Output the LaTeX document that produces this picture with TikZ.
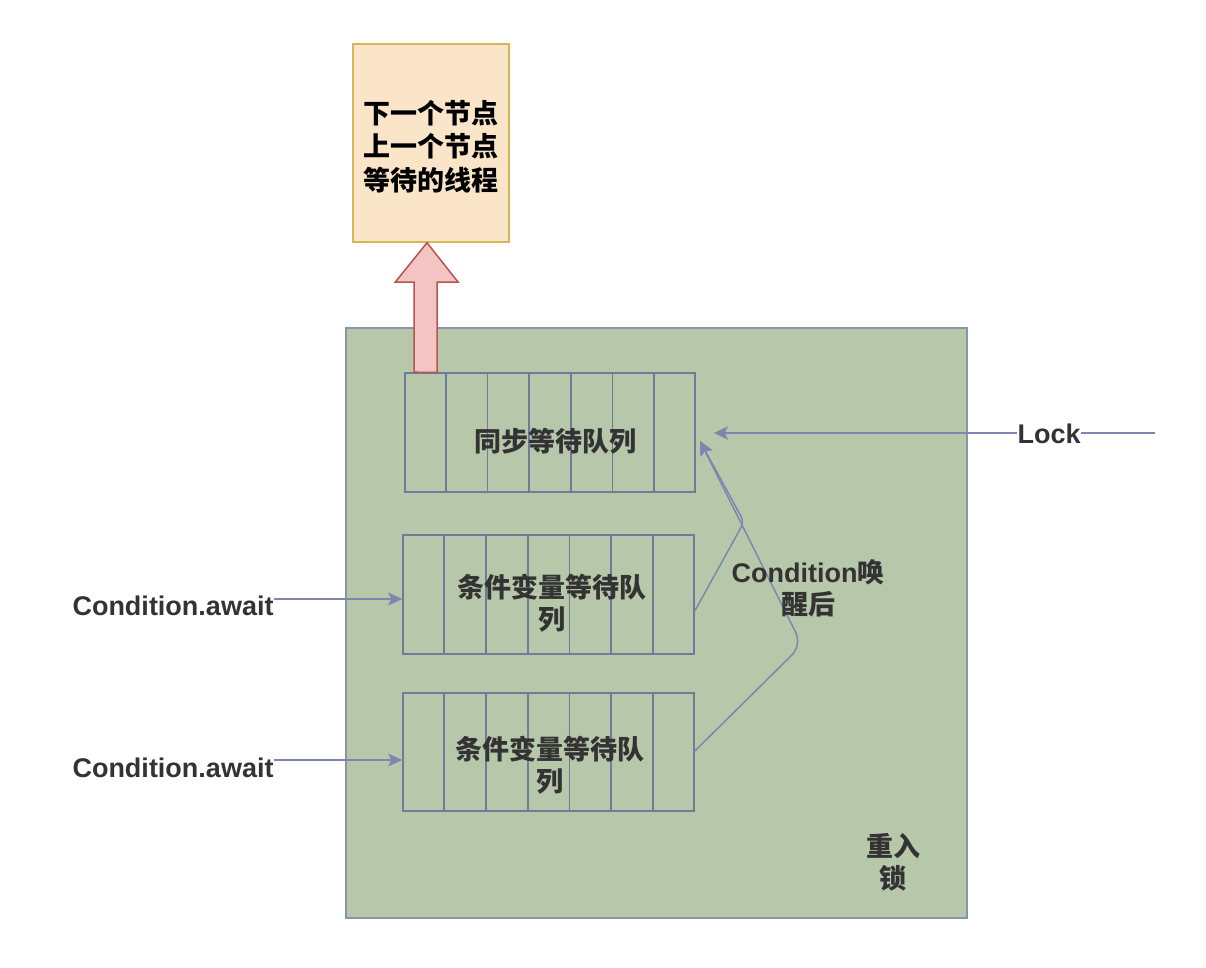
\documentclass[tikz,border=0pt]{standalone}
\usepackage{fontspec}
\setmainfont{Liberation Sans}
\newfontfamily\cjk{Noto Sans CJK SC}
\usetikzlibrary{arrows.meta,calc}
\definecolor{greenfill}{HTML}{B7C8AA}
\definecolor{greenline}{HTML}{8A94A8}
\definecolor{qline}{HTML}{6F7B98}
\definecolor{conncol}{HTML}{7C86AE}
\definecolor{peach}{HTML}{FAE5C8}
\definecolor{gold}{HTML}{D6B656}
\definecolor{pinkfill}{HTML}{F2C4C4}
\definecolor{pinkline}{HTML}{B85450}
\definecolor{txt}{HTML}{333333}
\begin{document}
\begin{tikzpicture}[x=1pt,y=-1pt,
  qbox/.style={draw=qline,line width=1.6pt,inner sep=0pt},
  qdiv/.style={draw=qline,line width=1.8pt},
  lbl/.style={text=txt,font=\fontsize{27}{32}\selectfont\bfseries,align=center,inner sep=0pt},
  conn/.style={draw=conncol,line width=1.5pt,-{Stealth[length=14pt,width=13pt,inset=3pt]}},
  plain/.style={draw=conncol,line width=1.5pt}]
\useasboundingbox (0,0) rectangle (1206,968);
\fill[white] (0,0) rectangle (1206,968);
% container
\node[draw=greenline,fill=greenfill,line width=1.5pt,minimum width=621pt,minimum height=590pt,inner sep=0pt] (lockbox) at (656.5,623) {};
\node[lbl] (lockname) at (893,862) {\cjk 重入\\\cjk 锁};
% top box
\node[draw=gold,fill=peach,line width=1.5pt,minimum width=156pt,minimum height=198pt,inner sep=0pt] (top) at (431,143) {};
\node[lbl,text=black,font=\fontsize{27}{33.5}\selectfont\bfseries] (toptext) at (431,146.5) {\cjk 下一个节点\\\cjk 上一个节点\\\cjk 等待的线程};
% queues
\node[qbox,minimum width=290pt,minimum height=119pt] (q1) at (550,432.5) {};
\node[qbox,minimum width=291pt,minimum height=119pt] (q2) at (548.5,594.5) {};
\node[qbox,minimum width=291pt,minimum height=118pt] (q3) at (548.5,752) {};
\foreach \q in {q1,q2,q3}{
  \foreach \i in {1,...,6}{
    \draw[qdiv] ($(\q.north west)!\i/7!(\q.north east)$) -- ($(\q.south west)!\i/7!(\q.south east)$);
  }
}
\node[lbl] (q1t) at (555,441) {\cjk 同步等待队列};
\node[lbl] (q2t) at (552,603) {\cjk 条件变量等待队\\\cjk 列};
\node[lbl] (q3t) at (550,765) {\cjk 条件变量等待队\\\cjk 列};
% big arrow
\draw[fill=pinkfill,draw=pinkline,line width=1.5pt]
  ($(q1.north west)+(10,0)$) -- ++(0,-90) -- ++(-19,0) -- (top.south -| 427,0) -- (458,282) -- (437,282) -- (437,372.5) -- cycle;
% Lock
\node[lbl] (lock) at (1049,434) {Lock};
\coordinate (lockend) at (1155,433);
\draw[plain] (lockend) -- (lock.east |- lockend);
\draw[conn,shorten >=18pt] (lock.west |- lockend) -- (q1.east |- lockend);
% Condition.await
\node[lbl] (aw1) at (173,606) {Condition.await};
\node[lbl] (aw2) at (173,768) {Condition.await};
\draw[conn] (aw1.east |- 0,599) -- (q2.west |- 0,599);
\draw[conn] (aw2.east |- 0,760) -- (q3.west |- 0,760);
% wake-up curves
\coordinate (tip) at (700,441);
\draw[conn,rounded corners=6pt] (q2.east |- 0,611) -- (744,522) -- (tip);
\draw[conn,rounded corners=14pt] (q3.east |- 0,751) -- (802,645) -- (tip);
\node[lbl] (wake) at (808,588) {Condition\cjk 唤\\\cjk 醒后};
\end{tikzpicture}
\end{document}
